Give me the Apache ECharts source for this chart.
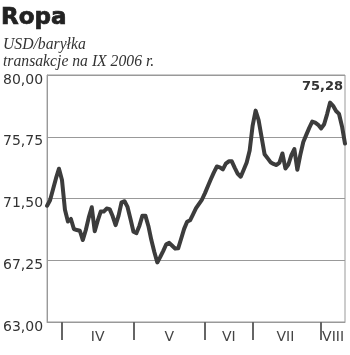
<!DOCTYPE html>
<html>
<head>
<meta charset="utf-8">
<script src="https://cdn.jsdelivr.net/npm/echarts@6/dist/echarts.min.js"></script>
<style>
html,body{margin:0;padding:0;background:#fff;}
#chart{width:350px;height:355px;}
</style>
</head>
<body>
<div id="chart"></div>
<script>
// Month of each trading point (Roman numerals)
const months = [
  'III','III','III','III','III',
  'IV','IV','IV','IV','IV','IV','IV','IV','IV','IV','IV','IV','IV','IV','IV','IV','IV','IV','IV','IV','IV','IV','IV','IV',
  'V','V','V','V','V','V','V','V','V','V','V','V','V','V','V','V','V','V','V','V','V','V','V','V',
  'VI','VI','VI','VI','VI','VI','VI','VI','VI','VI','VI','VI','VI','VI','VI','VI',
  'VII','VII','VII','VII','VII','VII','VII','VII','VII','VII','VII','VII','VII','VII','VII','VII','VII','VII','VII','VII','VII','VII','VII',
  'VIII','VIII','VIII','VIII','VIII','VIII','VIII','VIII','VIII'
];
// Oil price, USD per barrel
const prices = [
  71.0, 71.38, 72.14, 72.9, 73.55,
  72.77, 70.73, 69.92, 70.09, 69.4, 69.33, 69.28, 68.64, 69.33, 70.2,
  70.9, 69.25, 69.97, 70.6, 70.6, 70.81, 70.77, 70.29, 69.67, 70.32,
  71.24, 71.31, 70.92, 70.09, 69.21, 69.12, 69.63, 70.32, 70.32, 69.61,
  68.64, 67.82, 67.1, 67.48, 67.9, 68.35, 68.45, 68.25, 68.05, 68.07,
  68.73, 69.41, 69.9, 70.0, 70.41, 70.83, 71.13, 71.43, 71.87, 72.36,
  72.84, 73.3, 73.7, 73.64, 73.5, 73.9, 74.06, 74.06, 73.61, 73.2,
  73.0, 73.48, 73.98, 74.8, 76.52, 77.55, 76.9, 75.72, 74.55, 74.28,
  74.0, 73.88, 73.8, 73.97, 74.6, 73.57, 73.84, 74.48, 74.9, 73.48,
  74.5, 75.39, 75.88, 76.36, 76.79, 76.72, 76.57, 76.32, 76.61, 77.31,
  78.1, 77.88, 77.52, 77.32, 76.46, 75.28
];
const yTicks = [63.00, 67.25, 71.50, 75.75, 80.00];
const titleText = 'Ropa';
const subText = 'USD/baryłka\ntransakcje na IX 2006 r.';

const fmt = v => v.toFixed(2).replace('.', ',');

// Month start and middle indices, derived from months
const monthStarts = new Set();
const monthMids = new Set();
(function(){
  let s = 0;
  for (let i = 1; i <= months.length; i++) {
    if (i === months.length || months[i] !== months[i-1]) {
      if (s > 0) monthStarts.add(s);
      if (s > 0) monthMids.add(Math.ceil((s + i - 1) / 2));
      s = i;
    }
  }
})();

const chart = echarts.init(document.getElementById('chart'), null, {renderer: 'canvas'});
chart.setOption({
  animation: false,
  backgroundColor: '#fff',
  title: [
    {
      text: titleText, left: 1, top: 7, padding: 0,
      textStyle: {fontFamily: 'DejaVu Sans', fontWeight: 'bold', fontSize: 23, color: '#222',
                  textBorderColor: '#222', textBorderWidth: 0.7}
    },
    {
      text: subText, left: 3, top: 36, padding: 0,
      textStyle: {fontFamily: 'Liberation Serif', fontStyle: 'italic', fontWeight: 'normal', fontSize: 15.7, lineHeight: 17, color: '#333'}
    }
  ],
  graphic: [{
    type: 'text', right: 7, top: 80,
    style: {text: fmt(prices[prices.length - 1]), font: 'bold 13px "DejaVu Sans"', fill: '#333'}
  }],
  grid: {left: 45, right: 5, top: 75, bottom: 33, show: true, borderColor: '#999', borderWidth: 1},
  xAxis: {
    type: 'category', data: months, boundaryGap: false,
    axisLine: {show: true, lineStyle: {color: '#999', width: 1}},
    axisTick: {show: true, length: 18, interval: (i) => monthStarts.has(i), lineStyle: {color: '#666', width: 2}},
    axisLabel: {
      show: true, interval: (i) => monthMids.has(i), margin: 8,
      fontFamily: 'DejaVu Sans', fontSize: 14, color: '#444'
    },
    splitLine: {show: false}
  },
  yAxis: {
    type: 'value', min: 63, max: 80,
    axisLine: {show: true, lineStyle: {color: '#999', width: 1}},
    axisTick: {show: false, customValues: yTicks},
    axisLabel: {
      show: true, customValues: yTicks, formatter: fmt, margin: 4,
      fontFamily: 'DejaVu Sans', fontSize: 14, color: '#333',
      verticalAlign: 'top', lineHeight: 10
    },
    splitLine: {show: true, lineStyle: {color: '#999', width: 1}}
  },
  series: [{
    type: 'line', data: prices, symbol: 'none', smooth: false,
    lineStyle: {color: '#3c3c3c', width: 4, join: 'round', cap: 'round'}
  }]
});
</script>
</body>
</html>
